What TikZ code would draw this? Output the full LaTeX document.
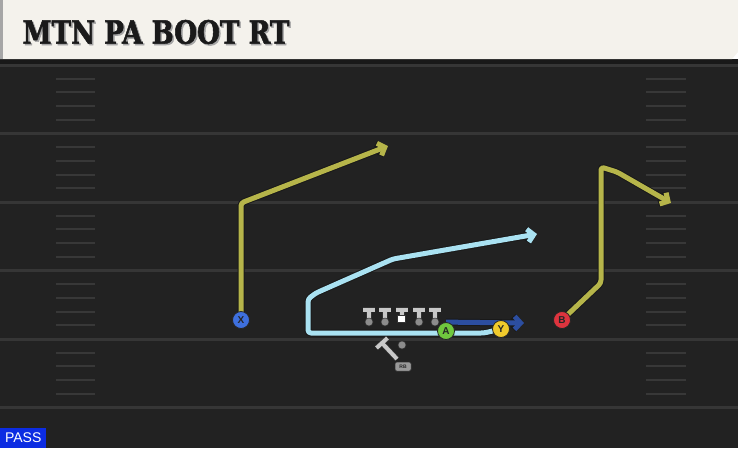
\documentclass[tikz,border=0pt]{standalone}
\usepackage{fontspec}
\setsansfont{Liberation Sans}
\newfontfamily\titlefont[FakeStretch=0.82,BoldFeatures={FakeBold=1.6}]{DejaVu Serif}
\usetikzlibrary{arrows.meta,backgrounds}
\definecolor{turf}{RGB}{34,34,34}
\definecolor{turfline}{RGB}{54,54,54}
\definecolor{hashline}{RGB}{56,56,56}
\definecolor{paper}{RGB}{244,242,236}
\definecolor{ink}{RGB}{26,26,26}
\definecolor{olive}{RGB}{182,181,74}
\definecolor{sky}{RGB}{170,226,242}
\definecolor{navy}{RGB}{44,78,160}
\definecolor{xblue}{RGB}{62,112,222}
\definecolor{agreen}{RGB}{112,200,62}
\definecolor{yyellow}{RGB}{240,202,44}
\definecolor{bred}{RGB}{222,52,62}
\definecolor{passblue}{RGB}{12,44,226}
\definecolor{lineman}{RGB}{200,200,200}
\tikzset{player/.style={circle, draw=black!85, line width=0.8pt, minimum size=17pt, inner sep=0pt, text=black!85, font=\sffamily\bfseries\fontsize{10}{10}\selectfont}}
\tikzset{route/.style={line width=5pt, line join=round, rounded corners=3pt, -{Straight Barb[length=6pt,width=13pt]}, preaction={draw=black!90, line width=7pt}}}
\tikzset{tee/.style={draw=lineman, line width=4pt, preaction={draw=black!80, line width=5.5pt}}}

\begin{document}
\begin{tikzpicture}[x=1pt,y=-1pt]
   \useasboundingbox (0,0) rectangle (738,448);
   \node[player,fill=xblue] (X) at (241,320) {X};
   \node[player,fill=agreen] (A) at (446,331) {A};
   \node[player,fill=yyellow] (Y) at (501,329) {Y};
   \node[player,fill=bred] (B) at (562,320) {B};
   \coordinate (xcut) at (241,203);
   \coordinate (xend) at (388,146);
   \coordinate (bup) at (601,283);
   \coordinate (btop) at (601,167);
   \coordinate (bturn) at (617,172);
   \coordinate (bend) at (671,203);
   \coordinate (ydip) at (484,333);
   \coordinate (yback) at (308,333);
   \coordinate (ycut) at (308,299);
   \coordinate (ybend) at (316,293);
   \coordinate (ymid) at (393,259);
   \coordinate (yend) at (537,234);
   \coordinate (aend) at (524,323);
   \begin{scope}[on background layer]
    \fill[turf] (0,59) rectangle (738,448);
    \foreach \y in {65,133.5,202,270.5,339,407.5}
      \draw[turfline,line width=3pt] (0,\y) -- (738,\y);
    \foreach \y in {65,133.5,202,270.5,339}
      \foreach \k in {1,...,4} {
        \draw[hashline,line width=2pt] (56,\y+13.7*\k) -- (95,\y+13.7*\k);
        \draw[hashline,line width=2pt] (646,\y+13.7*\k) -- (686,\y+13.7*\k);
      }
    \fill[black!90] (0,59) rectangle (738,64);
    \fill[paper] (0,0) -- (738,0) -- (738,52) -- (732,59) -- (0,59) -- cycle;
    \fill[black!35] (0,0) rectangle (3,59);
    \draw[route,olive] (X.center) -- (xcut) -- (xend);
    \draw[route,olive] (B.center) -- (bup) -- (btop) -- (bturn) -- (bend);
    \draw[route,sky] (Y.center) -- (ydip) -- (yback) -- (ycut) -- (ybend) -- (ymid) -- (yend);
    \draw[route,navy,preaction={draw=navy!60!black}] (A.north) -- (aend);
   \end{scope}
   \node[anchor=west,text=black!35,font=\titlefont\bfseries\fontsize{32}{32}\selectfont] at (20.5,33.5) {MTN PA BOOT RT};
   \node[anchor=west,text=ink,font=\titlefont\bfseries\fontsize{32}{32}\selectfont] (title) at (19,32) {MTN PA BOOT RT};
   \foreach \x in {369,385,419,435} {
    \draw[tee] (\x-6,309.5) -- (\x+6,309.5) (\x,309.5) -- (\x,319);
    \filldraw[fill=black!45,draw=black!80,line width=0.5pt] (\x,322) circle(4);
   }
   \draw[tee] (396,309.5) -- (408,309.5) (402,309.5) -- (402,315);
   \filldraw[fill=white,draw=black!80,line width=0.5pt] (397.5,315) rectangle (405.5,322);
   \draw[tee] (382,343) -- (397,359) (376.5,348) -- (387.5,338);
   \filldraw[fill=black!45,draw=black!80,line width=0.5pt] (402,345) circle(4);
   \node[fill=black!40,draw=black!80,line width=0.5pt,rounded corners=1.5pt,minimum width=16pt,minimum height=9pt,inner sep=0pt,text=black!85,font=\sffamily\bfseries\fontsize{5}{5}\selectfont] (rb) at (403,366.5) {RB};
   \node[fill=passblue,text=white,font=\sffamily\fontsize{14}{14}\selectfont,anchor=south west,minimum width=46pt,minimum height=20pt,inner sep=0pt] (pass) at (0,448) {PASS};
  \end{tikzpicture}
\end{document}
